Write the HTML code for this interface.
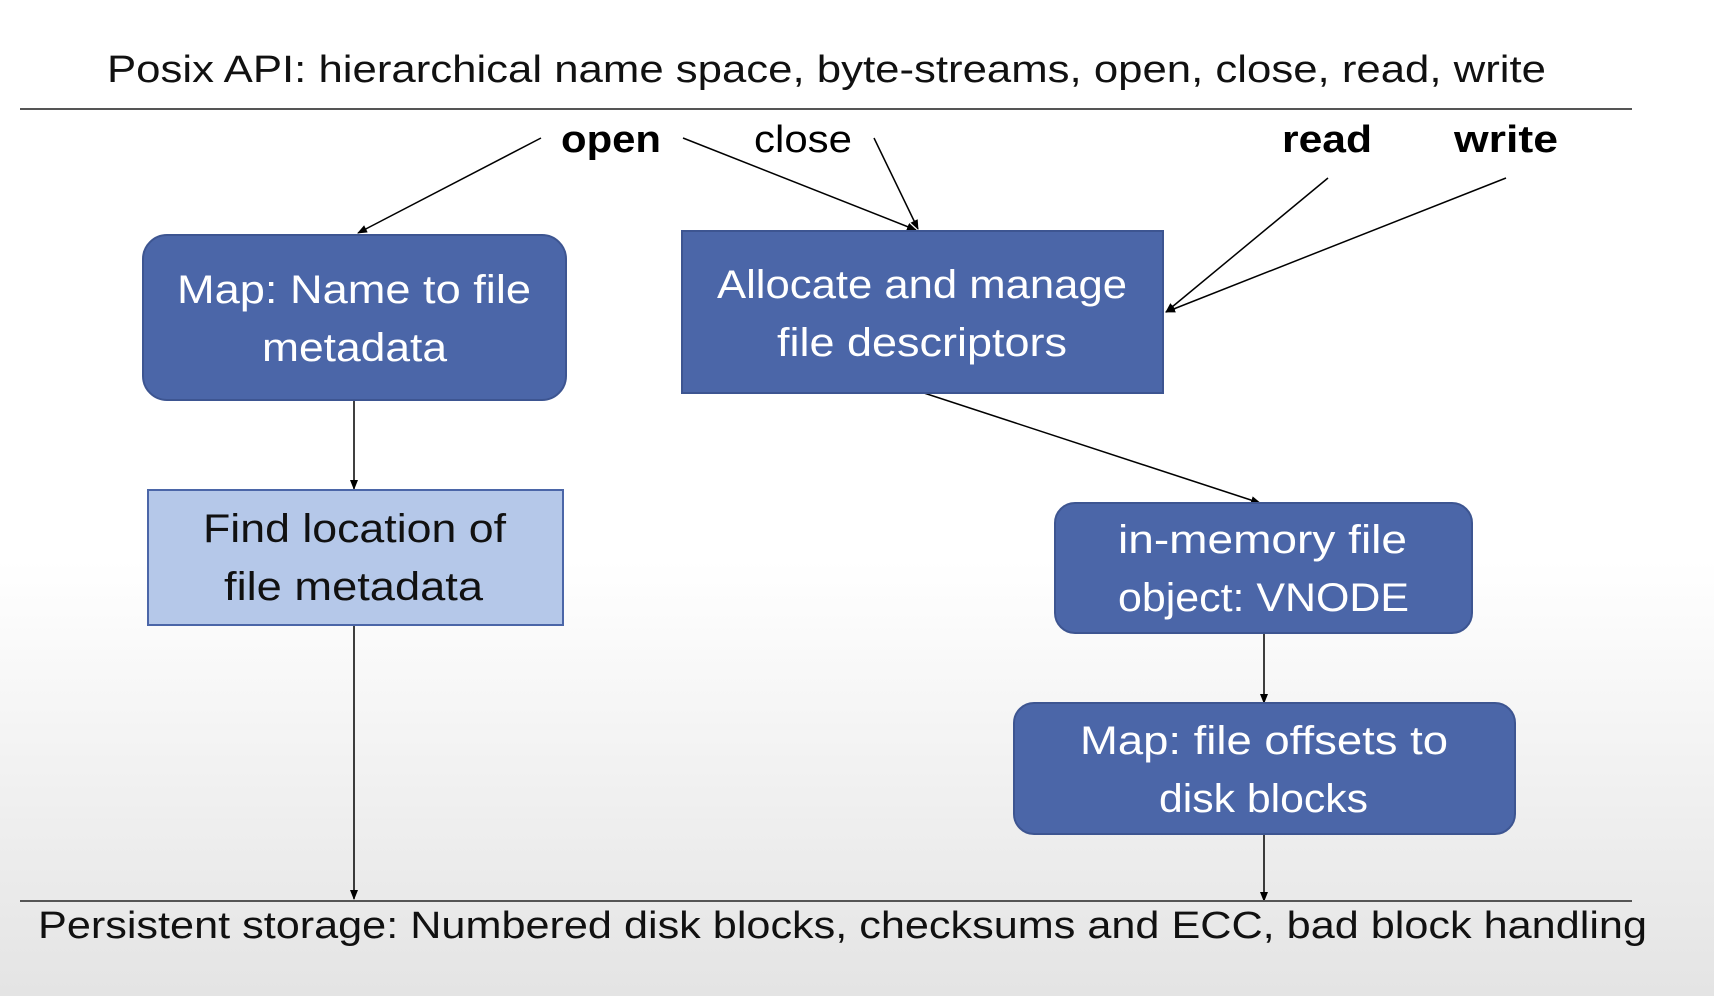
<!DOCTYPE html>
<html><head><meta charset="utf-8"><style>
html,body{margin:0;padding:0;}
body{width:1714px;height:996px;overflow:hidden;background:linear-gradient(#ffffff 0px,#ffffff 560px,#ececec 860px,#e4e4e4 996px);}
svg{display:block;}
text{font-family:"Liberation Sans",sans-serif;}
</style></head><body>
<svg width="1714" height="996" viewBox="0 0 1714 996">
<defs><marker id="a" markerWidth="10" markerHeight="10" refX="9" refY="5" orient="auto" markerUnits="userSpaceOnUse"><path d="M0,1 L10,5 L0,9 z" fill="#000"/></marker></defs>
<text x="107" y="82" font-size="38" textLength="1439" lengthAdjust="spacingAndGlyphs" fill="#111">Posix API: hierarchical name space, byte-streams, open, close, read, write</text>
<line x1="20" y1="109" x2="1632" y2="109" stroke="#555" stroke-width="2"/>
<text x="561" y="152" font-size="38" font-weight="bold" textLength="100" lengthAdjust="spacingAndGlyphs">open</text>
<text x="754" y="152" font-size="38" textLength="98" lengthAdjust="spacingAndGlyphs">close</text>
<text x="1282" y="152" font-size="38" font-weight="bold" textLength="90" lengthAdjust="spacingAndGlyphs">read</text>
<text x="1454" y="152" font-size="38" font-weight="bold" textLength="104" lengthAdjust="spacingAndGlyphs">write</text>
<g stroke="#000" stroke-width="1.5" fill="none" marker-end="url(#a)">
<line x1="541" y1="138" x2="358" y2="233"/>
<line x1="683" y1="138" x2="916" y2="230"/>
<line x1="874" y1="138" x2="918" y2="229"/>
<line x1="1328" y1="178" x2="1166" y2="312"/>
<line x1="1506" y1="178" x2="1166" y2="312"/>
<line x1="354" y1="400" x2="354" y2="489"/>
<line x1="924" y1="393" x2="1260" y2="503"/>
<line x1="1264" y1="633" x2="1264" y2="703"/>
<line x1="354" y1="625" x2="354" y2="899"/>
<line x1="1264" y1="834" x2="1264" y2="901"/>
</g>
<g font-size="40" lengthAdjust="spacingAndGlyphs">
<rect x="143" y="235" width="423" height="165" rx="24" fill="#4b66a8" stroke="#3d5591" stroke-width="2"/>
<text x="177" y="303" font-size="40" fill="#fff" textLength="354" lengthAdjust="spacingAndGlyphs">Map: Name to file</text>
<text x="262" y="361" font-size="40" fill="#fff" textLength="185" lengthAdjust="spacingAndGlyphs">metadata</text>
<rect x="682" y="231" width="481" height="162" fill="#4b66a8" stroke="#3d5591" stroke-width="2"/>
<text x="717" y="298" font-size="40" fill="#fff" textLength="410" lengthAdjust="spacingAndGlyphs">Allocate and manage</text>
<text x="777" y="356" font-size="40" fill="#fff" textLength="290" lengthAdjust="spacingAndGlyphs">file descriptors</text>
<rect x="148" y="490" width="415" height="135" fill="#b5c8e9" stroke="#4b66a8" stroke-width="2"/>
<text x="203" y="542" font-size="40" fill="#111" textLength="303" lengthAdjust="spacingAndGlyphs">Find location of</text>
<text x="224" y="600" font-size="40" fill="#111" textLength="259" lengthAdjust="spacingAndGlyphs">file metadata</text>
<rect x="1055" y="503" width="417" height="130" rx="20" fill="#4b66a8" stroke="#3d5591" stroke-width="2"/>
<text x="1118" y="553" font-size="40" fill="#fff" textLength="289" lengthAdjust="spacingAndGlyphs">in-memory file</text>
<text x="1118" y="611" font-size="40" fill="#fff" textLength="291" lengthAdjust="spacingAndGlyphs">object: VNODE</text>
<rect x="1014" y="703" width="501" height="131" rx="20" fill="#4b66a8" stroke="#3d5591" stroke-width="2"/>
<text x="1080" y="754" font-size="40" fill="#fff" textLength="368" lengthAdjust="spacingAndGlyphs">Map: file offsets to</text>
<text x="1159" y="812" font-size="40" fill="#fff" textLength="209" lengthAdjust="spacingAndGlyphs">disk blocks</text>
</g>
<line x1="20" y1="901" x2="1632" y2="901" stroke="#555" stroke-width="2"/>
<text x="38" y="938" font-size="38" textLength="1609" lengthAdjust="spacingAndGlyphs" fill="#111">Persistent storage: Numbered disk blocks, checksums and ECC, bad block handling</text>
</svg>
</body></html>
